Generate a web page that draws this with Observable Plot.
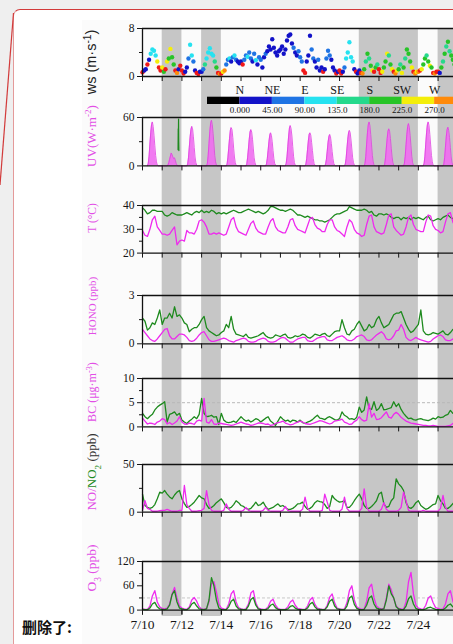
<!DOCTYPE html>
<html>
<head>
<meta charset="utf-8">
<script src="https://cdn.jsdelivr.net/npm/d3@7"></script>
<script src="https://cdn.jsdelivr.net/npm/@observablehq/plot@0.6"></script>
<style>
  html, body { margin: 0; padding: 0; }
  body { width: 453px; height: 644px; overflow: hidden; background: #efefef; position: relative; }
  #card { position: absolute; left: 13px; top: 9px; width: 700px; height: 700px; background: #fff;
          border-top: 1.5px solid #d23a3a; border-left: 1.5px solid #e49a9a; border-top-left-radius: 7px; }
  #figure { position: absolute; left: 82px; top: 20px; width: 600px; height: 640px; background: #fbfbfb; }
  #leader { position: absolute; left: 0; top: 0; }
  #chart { position: absolute; left: 0; top: 0; width: 700px; height: 644px; }
  #chart svg { position: absolute; left: 0; }
  #note { position: absolute; left: 22px; top: 616px; font: bold 15px "Noto Sans CJK SC", sans-serif; color: #111; }
</style>
</head>
<body>
<div id="card"></div>
<div id="figure"></div>
<svg id="leader" width="30" height="200"><line x1="13.5" y1="13" x2="0" y2="185" stroke="#d23a3a" stroke-width="1.2"/></svg>
<div id="chart"></div>
<div id="note">删除了:</div>
<script>
// ---- date axis ----
const dayLabels = ["7/10", "7/12", "7/14", "7/16", "7/18", "7/20", "7/22", "7/24"];
const shadeStart = ["7/11", "7/13", "7/21", "7/25"];
const shadeEnd   = ["7/12", "7/14", "7/24", "7/27"];

// ---- wind direction colour classes ----
const dirBreaks = [0, 45, 90, 135, 180, 225, 270, 315];
const dirColors = ["#000000", "#1212c8", "#1f74e4", "#26e2f0", "#25d98c", "#27c427", "#f4ee0a", "#ff8a0a", "#f01818"];
const compassNames = ["N", "NE", "E", "SE", "S", "SW", "W"];
const degreeLabels = ["0.000", "45.00", "90.00", "135.0", "180.0", "225.0", "270.0"];

// ---- wind speed (m/s) and direction (deg), every 2 h from 7/10 00:00 ----
const wsSpeed = [
  0.7, 1.0, 1.2, 2.0, 2.8, 3.8, 4.5, 4.3, 3.5, 2.5, 1.5, 1.0,
  1.5, 0.8, 1.2, 2.5, 3.0, 4.6, 3.2, 2.0, 1.0, 0.6, 1.2, 1.8,
  1.0, 0.5, 0.8, 1.5, 3.0, 5.3, 3.5, 2.5, 1.0, 0.6, 0.4, 0.8,
  0.8, 1.2, 2.0, 3.0, 4.0, 4.7, 3.8, 3.5, 2.5, 1.5, 0.6, 0.4,
  0.5, 0.8, 1.0, 2.0, 2.8, 3.0, 2.5, 3.2, 3.5, 2.8, 2.5, 2.2,
  2.5, 2.0, 2.8, 3.5, 3.3, 4.0, 3.0, 2.5, 3.8, 2.7, 2.0, 3.2,
  2.8, 1.5, 3.2, 3.8, 4.2, 5.0, 4.5, 6.2, 4.8, 4.0, 3.5, 4.2,
  4.5, 5.0, 3.8, 4.5, 6.0, 6.8, 7.0, 5.5, 4.8, 4.0, 3.5, 4.2,
  3.2, 2.5, 1.0, 0.6, 2.5, 3.5, 6.8, 4.5, 3.0, 2.5, 1.5, 2.8,
  1.0, 1.5, 0.8, 1.2, 3.0, 4.3, 3.5, 2.8, 1.5, 1.0, 0.5, 0.8,
  1.0, 0.5, 0.8, 1.5, 3.0, 4.0, 5.7, 3.2, 2.5, 1.2, 0.8, 0.5,
  1.0, 0.6, 0.5, 1.2, 2.5, 3.8, 3.0, 1.8, 1.0, 0.8, 1.5, 2.0,
  1.2, 0.6, 0.8, 1.5, 2.5, 3.8, 3.5, 2.0, 1.2, 0.8, 0.5, 1.0,
  1.2, 2.0, 0.6, 1.5, 3.0, 4.5, 3.8, 2.5, 1.5, 0.8, 0.5, 0.8,
  0.8, 1.0, 1.2, 2.0, 3.0, 3.5, 2.5, 1.8, 1.5, 0.6, 0.5, 0.8,
  0.8, 0.6, 1.5, 2.5, 3.8, 5.0, 5.8, 4.2, 3.5, 2.8, 2.0, 1.5
];
const wsDir = [
  335, 20, 30, 340, 30, 100, 110, 115, 100, 250, 330, 340,
  250, 200, 340, 250, 200, 260, 210, 200, 340, 300, 20, 340,
  330, 340, 20, 30, 70, 100, 110, 70, 30, 340, 320, 20,
  30, 60, 160, 110, 120, 110, 100, 130, 160, 200, 340, 290,
  340, 250, 300, 70, 60, 110, 30, 60, 110, 70, 40, 30,
  30, 340, 70, 60, 110, 60, 70, 40, 60, 110, 30, 70,
  60, 30, 30, 60, 30, 20, 30, 25, 30, 40, 30, 20,
  30, 20, 30, 40, 20, 30, 25, 30, 60, 30, 40, 60,
  60, 70, 340, 330, 30, 40, 30, 60, 70, 40, 30, 60,
  30, 20, 340, 30, 60, 70, 60, 30, 20, 40, 340, 30,
  340, 320, 30, 70, 110, 110, 110, 130, 100, 30, 340, 30,
  30, 340, 300, 200, 160, 200, 160, 200, 250, 340, 200, 160,
  340, 330, 250, 200, 200, 250, 160, 200, 250, 340, 290, 250,
  200, 160, 250, 200, 160, 200, 180, 200, 250, 340, 290, 250,
  290, 340, 250, 200, 200, 160, 200, 250, 200, 340, 290, 330,
  340, 20, 200, 160, 200, 160, 200, 160, 200, 180, 200, 200
];

// ---- UV (W/m2), hourly daytime values per day ----
const uvHours = [6, 7, 8, 9, 10, 11, 12, 13, 14, 15, 16, 17, 18, 19];
const uvByDay = [
  [0, 3, 12, 27, 41, 51, 54.5, 49, 38, 25, 13, 5, 1, 0],
  [0, 1, 4, 8, 12, 16, 14, 11, 9, 10, 7, 3, 1, 0],
  [0, 2, 10, 23, 36, 45, 49, 46, 36, 23, 11, 4, 1, 0],
  [0, 3, 13, 28, 43, 53, 56.6, 51, 40, 27, 13, 5, 1, 0],
  [0, 2, 10, 22, 34, 44, 47.5, 45, 35, 22, 11, 4, 1, 0],
  [0, 2, 10, 21, 33, 42, 45, 42, 33, 21, 10, 4, 1, 0],
  [0, 2, 9, 19, 30, 38, 41, 38, 30, 19, 9, 3, 1, 0],
  [0, 3, 11, 24, 37, 47, 50, 46, 37, 24, 12, 4, 1, 0],
  [0, 2, 9, 20, 31, 39, 41, 38, 29, 19, 9, 3, 1, 0],
  [0, 2, 8, 18, 29, 36, 39, 36, 28, 18, 9, 3, 1, 0],
  [0, 2, 9, 21, 33, 41, 44, 41, 32, 21, 10, 4, 1, 0],
  [0, 3, 12, 27, 41, 51, 54.5, 50, 39, 26, 13, 5, 1, 0],
  [0, 2, 10, 22, 34, 43, 46, 43, 34, 22, 11, 4, 1, 0],
  [0, 3, 12, 26, 39, 49, 52.5, 48, 38, 25, 12, 4, 1, 0],
  [0, 3, 12, 27, 41, 51, 54.5, 50, 39, 26, 13, 5, 1, 0],
  [0, 2, 10, 23, 36, 45, 48, 44, 35, 23, 11, 4, 1, 0]
];
// short second UV record, evening of 7/11
const uvGreenHour = [19.3, 19.5, 19.7, 19.9, 20.1, 20.3];
const uvGreenValue = [20, 46, 38, 58, 30, 19];

// ---- 3-hourly series from 7/10 00:00 (8 values per day) ----
const tAir = [
  29.5, 27.5, 27, 30, 34, 35.5, 31, 29.5,
  28, 28, 27.5, 28, 29.5, 31, 23.5, 25,
  25.5, 25, 29.5, 28.5, 28.5, 28, 30, 33.5,
  34, 33, 31, 28, 28, 28.5, 28, 28.5,
  28, 27.5, 28, 31, 34, 35, 31, 29,
  28.5, 28, 27.5, 30, 32.5, 33.5, 30.5, 29,
  28.5, 28, 28, 31, 33.5, 34.5, 31, 29.5,
  29, 28.5, 28.5, 31, 34, 34.5, 31.5, 30,
  29.5, 29, 28.5, 31.5, 34.5, 35, 32, 30.5,
  30, 29, 29, 32, 34, 34, 31, 29.5,
  29, 28, 27, 31, 34, 33, 30, 28.5,
  28, 27, 27.5, 32, 35.5, 36, 31, 29,
  28.5, 28, 28.5, 32, 36, 36.5, 31, 29.5,
  28.5, 27.5, 28, 31, 35, 36, 32, 30,
  29.5, 29, 29, 33, 36, 35.5, 31.5, 30,
  29.5, 28.5, 29, 33, 36.5, 37, 33, 31,
  30
];
const tGreen = [
  39, 38, 36.5, 37, 38, 38, 37.5, 37.5,
  37.5, 36, 35.5, 36, 37, 36.5, 36, 36,
  36, 36.5, 37, 36.5, 36, 37, 37.5, 37,
  38, 37, 37.5, 37, 38, 37.5, 36.5, 37,
  36.5, 37, 36.5, 37, 37.5, 38, 37.5, 37,
  37, 37.5, 38, 38.5, 38, 37.5, 37, 37.5,
  37, 36.5, 37, 38, 39.5, 39.5, 39, 38.5,
  38, 38, 37.5, 38, 38.5, 38, 37, 36,
  36, 35.5, 35, 35.5, 35, 34.5, 34, 34,
  33.5, 33.5, 33, 33.5, 34, 35, 36, 36.5,
  36.5, 37, 37.5, 38, 39.5, 39, 38.5, 38,
  38, 38, 38.5, 38, 37, 37.5, 36, 35.5,
  36.5, 36.5, 36, 36.5, 36, 35, 34.5, 35,
  35, 34, 35, 34.5, 35, 34, 35, 34.5,
  35, 34.5, 34, 35, 35.5, 34, 33.5, 34,
  34.5, 34, 35, 35.5, 36, 35, 34.5, 35,
  35
];
const honoGreen = [
  1.6, 1.4, 0.85, 1.0, 1.3, 1.2, 1.6, 2.1,
  1.2, 1.6, 1.6, 1.9, 1.6, 2.3, 1.7, 1.8,
  1.6, 1.3, 1.2, 0.75, 0.9, 1.0, 1.0, 1.2,
  1.5, 1.7, 1.0, 0.8, 0.7, 0.6, 0.5, 0.55,
  0.7, 0.8, 1.2, 1.0, 1.7, 0.9, 0.6, 0.55,
  0.5, 0.45, 0.6, 0.4, 0.35, 0.4, 0.45, 0.5,
  0.6, 0.7, 0.5, 0.4, 0.35, 0.4, 0.55, 0.5,
  0.45, 0.55, 0.6, 0.4, 0.35, 0.4, 0.5, 0.45,
  0.5, 0.6, 0.55, 0.4, 0.35, 0.45, 0.6, 0.55,
  0.5, 0.6, 0.65, 0.5, 0.45, 0.6, 0.75, 0.8,
  0.8, 1.5, 1.0, 0.6, 0.55, 0.8, 0.9, 1.2,
  1.4, 1.1, 0.8, 0.9, 1.2, 1.0, 1.1, 1.5,
  1.7, 1.3, 1.0, 1.1, 1.2, 1.5, 1.8, 1.9,
  1.9, 2.0, 1.6, 1.2, 0.9, 0.7, 0.8, 1.0,
  1.2, 2.1, 0.8, 0.6, 0.55, 0.6, 0.7, 0.65,
  0.6, 0.7, 0.8, 0.6, 0.55, 0.7, 0.9, 0.8,
  0.7
];
const honoPink = [
  0.9, 0.7, 0.5, 0.3, 0.2, 0.15, 0.3, 0.5,
  0.7, 0.9, 0.95, 0.5, 0.3, 0.3, 0.45, 0.6,
  0.6, 0.55, 0.4, 0.2, 0.15, 0.2, 0.35, 0.55,
  0.7, 0.75, 0.5, 0.25, 0.15, 0.15, 0.2, 0.25,
  0.3, 0.35, 0.3, 0.2, 0.15, 0.1, 0.2, 0.25,
  0.3, 0.35, 0.3, 0.15, 0.1, 0.1, 0.15, 0.25,
  0.3, 0.35, 0.3, 0.15, 0.1, 0.1, 0.15, 0.25,
  0.35, 0.4, 0.35, 0.2, 0.1, 0.1, 0.2, 0.3,
  0.35, 0.4, 0.4, 0.2, 0.15, 0.15, 0.25, 0.35,
  0.4, 0.45, 0.45, 0.25, 0.2, 0.2, 0.3, 0.4,
  0.45, 0.5, 0.4, 0.25, 0.2, 0.2, 0.3, 0.45,
  0.5, 0.55, 0.45, 0.25, 0.2, 0.25, 0.4, 0.55,
  0.65, 0.75, 0.6, 0.3, 0.25, 0.3, 0.5, 0.8,
  0.85, 1.2, 0.9, 0.4, 0.25, 0.2, 0.3, 0.4,
  0.3, 0.25, 0.2, 0.15, 0.1, 0.15, 0.3, 0.4,
  0.5, 0.55, 0.45, 0.25, 0.2, 0.2, 0.3, 0.35,
  0.4
];
const bcGreen = [
  2.8, 2.1, 1.7, 2.2, 2.6, 3.5, 4.1, 4.5,
  4.8, 5.2, 1.0, 2.6, 2.8, 3.1, 2.4, 2.8,
  1.4, 1.0, 0.7, 1.2, 1.6, 2.1, 1.7, 2.6,
  5.9, 2.8, 2.1, 2.2, 2.4, 2.0, 2.1, 0.5,
  2.8, 1.4, 1.0, 0.9, 1.0, 1.2, 0.9, 1.5,
  2.1, 1.6, 1.2, 1.4, 1.0, 1.3, 1.7, 1.5,
  1.0, 1.4, 1.8, 2.1, 1.2, 0.8, 0.3, 1.2,
  2.1, 1.6, 1.2, 1.4, 1.0, 1.4, 1.3, 1.0,
  1.4, 0.9, 0.7, 1.0, 1.2, 1.5, 2.0, 2.4,
  1.8, 1.7, 1.5, 1.9, 2.1, 1.8, 1.5, 1.4,
  1.7, 3.1, 2.4, 2.1, 1.6, 1.7, 1.5, 2.0,
  4.1, 3.0, 3.5, 6.2, 3.8, 3.6, 5.2, 3.4,
  3.8, 4.8, 3.5, 3.6, 3.8, 4.0, 5.2, 4.2,
  4.8, 3.6, 2.8, 2.2, 1.7, 1.8, 1.5, 1.4,
  1.6, 1.7, 1.5, 1.4, 1.3, 1.5, 1.8, 1.6,
  2.1, 1.9, 2.0, 2.4, 2.6, 3.4, 2.8, 3.0,
  3.2
];
const bcPink = [
  1.8, 1.2, 0.6, 0.8, 0.7, 0.5, 1.0, 1.2,
  1.7, 1.5, 0.6, 0.9, 0.5, 0.8, 1.2, 2.1,
  1.0, 0.6, 0.5, 0.8, 0.7, 0.5, 1.2, 1.4,
  1.2, 5.9, 1.0, 0.8, 1.5, 0.6, 0.5, 0.8,
  0.7, 0.6, 0.5, 0.4, 0.3, 0.4, 0.6, 0.8,
  1.0, 0.8, 0.6, 0.5, 0.3, 0.4, 0.6, 0.8,
  0.8, 0.7, 0.5, 0.6, 0.3, 0.4, 0.7, 0.9,
  1.0, 1.2, 0.8, 0.6, 0.4, 0.5, 0.8, 1.0,
  1.2, 1.0, 0.7, 0.6, 0.5, 0.7, 0.9, 1.1,
  1.3, 1.2, 1.0, 0.8, 0.6, 0.8, 1.2, 1.3,
  1.4, 1.6, 1.0, 0.8, 0.5, 0.6, 1.1, 1.4,
  2.1, 1.5, 1.2, 1.4, 4.8, 2.0, 2.8, 1.5,
  1.6, 1.9, 2.5, 3.1, 2.0, 1.8, 2.6, 3.0,
  2.6, 2.0, 1.6, 1.2, 1.0, 0.8, 0.7, 0.6,
  0.5, 0.4, 0.3, 0.3, 0.2, 0.2, 0.3, 0.2,
  0.1, 0.1, 0.1, 0.1, 0.2, 0.3, 0.7, 0.8,
  0.8
];
const no2Green = [
  19, 7, 5, 4, 5, 8, 14, 21,
  20, 22.7, 19, 16, 14, 18, 21, 22.7,
  14, 9, 5, 6, 8, 10.5, 14, 17.5,
  15, 14, 8, 4, 5, 7, 10, 12,
  14, 10, 5, 4, 5, 8, 12, 10,
  7, 6, 4, 3, 4, 7, 10.5, 7,
  8, 10.5, 6, 3, 4, 5, 7, 8.7,
  6, 7, 5, 3, 3, 4, 6, 8.7,
  9, 10.5, 6, 3, 4, 6, 10, 12,
  11, 10.5, 8, 4, 6, 17.5, 14, 12,
  10.5, 11, 12, 5, 5, 8, 12, 15.7,
  19, 14, 7, 4, 4, 6, 8.7, 12,
  19, 21, 8.7, 5, 6, 12, 15, 35,
  29.7, 27, 22.7, 10, 5, 4, 6, 10,
  12, 7, 5, 3, 4, 6, 8, 8.7,
  17.5, 12, 8.7, 4, 4, 6, 9, 12,
  12
];
const noPink = [
  2, 12, 4, 3, 1, 1, 1, 1.5,
  2, 2, 3, 2, 1, 1, 1, 2,
  2, 28, 8, 4, 1, 1, 1, 1.5,
  2, 4, 22.7, 8, 2, 1, 1, 1,
  1, 2, 8.7, 3, 1, 1, 1, 1,
  1, 2, 5, 2, 1, 1, 1, 1,
  1, 2, 5, 2, 1, 1, 1, 1,
  1, 2, 6, 2, 1, 1, 1, 1,
  1, 3, 15.7, 4, 1, 1, 1, 1,
  1, 2, 19, 10.5, 2, 1, 1, 1,
  1, 3, 15.7, 4, 1, 1, 1, 1,
  1, 4, 24.5, 5, 1, 1, 1, 1,
  1, 3, 10, 3, 1, 1, 1, 1,
  2, 5, 21, 12, 2, 1, 1, 1,
  1, 1, 2, 1, 1, 1, 1, 1,
  1, 4, 17.5, 5, 1, 1, 1, 1,
  1
];
const o3Pink = [
  3, 2, 2, 10, 35, 48, 20, 8,
  4, 3, 5, 15, 40, 56, 30, 10,
  5, 3, 2, 8, 25, 31, 22, 8,
  3, 2, 4, 20, 65, 70, 45, 15,
  5, 3, 2, 15, 40, 48, 20, 6,
  3, 2, 3, 15, 42, 48, 18, 5,
  3, 2, 2, 8, 22, 27, 12, 4,
  2, 2, 2, 8, 20, 25, 12, 4,
  3, 2, 2, 10, 25, 31, 14, 5,
  3, 2, 2, 12, 32, 40, 18, 5,
  3, 2, 3, 18, 48, 60, 25, 8,
  4, 2, 3, 22, 55, 64, 30, 10,
  5, 3, 4, 30, 64, 50, 28, 10,
  4, 3, 2, 20, 70, 93, 40, 12,
  5, 3, 2, 12, 30, 35, 18, 6,
  4, 2, 3, 15, 40, 48, 22, 8,
  5
];
const o3Green = [
  2, 1, 1, 5, 15, 19, 8, 3,
  2, 1, 3, 12, 38, 48, 20, 5,
  3, 1, 1, 5, 15, 19, 10, 3,
  2, 1, 3, 25, 80, 60, 25, 5,
  2, 1, 1, 8, 22, 27, 10, 3,
  2, 1, 1, 10, 26, 31, 12, 3,
  1, 1, 1, 4, 12, 15, 6, 2,
  1, 1, 1, 3, 9, 11, 5, 2,
  1, 1, 1, 5, 15, 19, 8, 2,
  2, 1, 1, 8, 22, 27, 10, 3,
  2, 1, 1, 10, 30, 35, 14, 4,
  2, 1, 2, 12, 30, 35, 15, 5,
  3, 2, 3, 25, 60, 40, 30, 8,
  3, 1, 1, 10, 28, 35, 15, 4,
  2, 1, 1, 3, 6, 7, 4, 2,
  1, 1, 1, 5, 12, 15, 8, 3,
  2
];

// ---- helpers ----
const dayOf = s => +s.split("/")[1] - 10;          // days since 7/10 00:00
const every3h = values => values.map((y, i) => ({t: i / 8, y}));
const wsData = wsSpeed.map((s, i) => ({t: i / 12, s, dir: wsDir[i]}));
const uvData = uvByDay.flatMap((row, d) => row.map((y, k) => ({t: d + uvHours[k] / 24, y})));
const uvGreen = uvGreenHour.map((h, k) => ({t: 1 + h / 24, y: uvGreenValue[k]}));
const shades = shadeStart.map((s, i) => ({x1: dayOf(s), x2: dayOf(shadeEnd[i])}));
const labelDays = dayLabels.map(dayOf);
const allDays = d3.range(0, 18);

const PINK = "#ee2aee", GREEN = "#1e8a1e", TITLE_PINK = "#e24fe6";
const FONT = '"Liberation Serif", "Times New Roman", serif';
const W = 477, ML = 142, XDOMAIN = [0, 17];
const dirScale = {type: "threshold", domain: dirBreaks, range: dirColors};
const chart = document.getElementById("chart");
const baseStyle = {background: "none", maxWidth: "none", overflow: "visible", fontFamily: FONT, fontSize: "11.5px", color: "#151515"};
const plain = d3.format("~g");

// ---- shaded periods behind all panels ----
const bg = Plot.plot({
  width: W, height: 644, marginLeft: ML, marginRight: 0, marginTop: 28, marginBottom: 28,
  x: {domain: XDOMAIN, axis: null},
  style: baseStyle,
  marks: [Plot.rect(shades, {x1: "x1", x2: "x2", fill: "#c6c6c6"})]
});
bg.style.top = "0px";
chart.append(bg);

// ---- one panel per variable ----
function panel(p, marks, withLabels = false) {
  const mt = 6, mb = withLabels ? 30 : 10;
  const svg = Plot.plot({
    width: W, height: (p.bottom - p.top) + mt + mb,
    marginLeft: ML, marginRight: 0, marginTop: mt, marginBottom: mb,
    x: {domain: XDOMAIN, axis: null},
    y: {domain: p.domain, axis: null, label: null},
    color: dirScale,
    style: baseStyle,
    marks: [
      ...marks,
      Plot.ruleY([p.domain[1]], {stroke: "#111", strokeWidth: 1.3}),
      Plot.ruleY([p.domain[0]], {stroke: "#111", strokeWidth: 1.3}),
      Plot.ruleX([XDOMAIN[0]], {stroke: "#111", strokeWidth: 1.3}),
      Plot.axisY({ticks: p.major, tickSize: 5, tickPadding: 3, tickFormat: plain, label: null}),
      Plot.axisY({ticks: p.minor, tickSize: 3, tickFormat: () => "", label: null}),
      Plot.axisX({ticks: allDays, tickSize: 5, tickFormat: () => "", label: null}),
      withLabels ? Plot.axisX({ticks: labelDays, tickSize: 5, tickPadding: 4, fontSize: 13.5,
        tickFormat: d => dayLabels[labelDays.indexOf(d)], label: null}) : null
    ]
  });
  svg.style.top = (p.top - mt) + "px";
  chart.append(svg);
}

const line = (data, stroke, w = 1.3) => Plot.line(data, {x: "t", y: "y", stroke, strokeWidth: w});

panel({top: 28, bottom: 76, domain: [0, 8], major: [0, 8], minor: [4]}, [
  Plot.dot(wsData, {x: "t", y: "s", fill: "dir", r: 2.2})
]);
panel({top: 117.3, bottom: 165.7, domain: [0, 60], major: [0, 60], minor: [30]}, [
  Plot.areaY(uvData, {x: "t", y: "y", fill: "#ef6bef", fillOpacity: 0.9}),
  line(uvData, "#df3ee0", 0.8),
  line(uvGreen, GREEN, 1.2)
]);
panel({top: 204.7, bottom: 252.3, domain: [20, 40], major: [20, 30, 40], minor: [25, 35]}, [
  line(every3h(tGreen), GREEN),
  line(every3h(tAir), PINK)
]);
panel({top: 295, bottom: 343.3, domain: [0, 3], major: [0, 3], minor: [1.5]}, [
  line(every3h(honoGreen), GREEN),
  line(every3h(honoPink), PINK)
]);
panel({top: 378.3, bottom: 426.7, domain: [0, 10], major: [0, 5, 10], minor: [2.5, 7.5]}, [
  Plot.ruleY([5], {stroke: "#b8b8b8", strokeDasharray: "3,2"}),
  line(every3h(bcGreen), GREEN),
  line(every3h(bcPink), PINK)
]);
panel({top: 464, bottom: 511.7, domain: [0, 50], major: [0, 50], minor: [25]}, [
  line(every3h(no2Green), GREEN),
  line(every3h(noPink), PINK)
]);
panel({top: 560.7, bottom: 609.3, domain: [0, 120], major: [0, 60, 120], minor: [30, 90]}, [
  Plot.ruleY([30], {stroke: "#c8c8c8", strokeDasharray: "3,2"}),
  line(every3h(o3Pink), PINK),
  line(every3h(o3Green), GREEN)
], true);

// ---- wind-direction colour bar ----
const segments = dirColors.map((c, i) => ({lo: i === 0 ? dirBreaks[0] - 45 : dirBreaks[i - 1], hi: i === 0 ? dirBreaks[0] : (dirBreaks[i] ?? 360)}));
const legend = Plot.plot({
  width: 500, height: 36, marginLeft: 207, marginRight: 1, marginTop: 16.7, marginBottom: 12,
  x: {domain: [-45, 360], axis: null},
  y: {domain: [0, 1], axis: null},
  color: dirScale,
  style: baseStyle,
  marks: [
    Plot.rect(segments, {x1: "lo", x2: "hi", y1: 0, y2: 1, fill: "lo"}),
    Plot.text(compassNames, {x: (d, i) => dirBreaks[i], text: d => d, frameAnchor: "top", dy: -3.5, lineAnchor: "bottom", fontSize: 12}),
    Plot.axisX({ticks: dirBreaks.slice(0, degreeLabels.length), tickSize: 0, tickPadding: 2, fontSize: 9, label: null,
      tickFormat: d => degreeLabels[dirBreaks.indexOf(d)]})
  ]
});
legend.style.top = "80px";
chart.append(legend);

// ---- rotated axis titles ----
const titles = [
  {y: 62, size: 14.5, family: '"Liberation Sans", Arial, sans-serif', parts: [["ws (m·s", "#222"], ["-1", "#222", "super"], [")", "#222"]]},
  {y: 136, size: 13, parts: [["UV(W·m", TITLE_PINK], ["-2", TITLE_PINK, "super"], [")", TITLE_PINK]]},
  {y: 218, size: 11.5, parts: [["T (°C)", TITLE_PINK]]},
  {y: 306, size: 11, parts: [["HONO (ppb)", TITLE_PINK]]},
  {y: 392, size: 12, parts: [["BC (μg·m", TITLE_PINK], ["-3", TITLE_PINK, "super"], [")", TITLE_PINK]]},
  {y: 472, size: 13, parts: [["NO/", TITLE_PINK], ["NO", GREEN], ["2", GREEN, "sub"], [" (ppb)", "#333"]]},
  {y: 568, size: 13.5, parts: [["O", TITLE_PINK], ["3", TITLE_PINK, "sub"], [" (ppb)", TITLE_PINK]]}
];
const tg = d3.select(bg);
for (const t of titles) {
  const el = tg.append("text")
    .attr("transform", `translate(96,${t.y}) rotate(-90)`)
    .attr("text-anchor", "middle")
    .style("font-family", t.family || FONT)
    .style("font-size", t.size + "px");
  for (const [s, c, shift] of t.parts) {
    const ts = el.append("tspan").attr("fill", c).text(s);
    if (shift) ts.attr("baseline-shift", shift).style("font-size", "70%");
  }
}
</script>
</body>
</html>
